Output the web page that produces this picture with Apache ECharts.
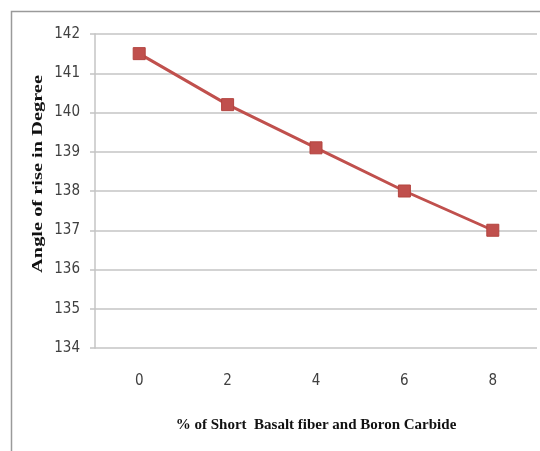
<!DOCTYPE html>
<html><head><meta charset="utf-8">
<script src="https://cdn.jsdelivr.net/npm/echarts@6/dist/echarts.min.js"></script>
<style>html,body{margin:0;padding:0;background:#fff}#c{width:540px;height:451px}</style>
</head><body><div id="c"></div>
<script>
const categories = ['0', '2', '4', '6', '8'];
const angleValues = [141.5, 140.2, 139.1, 138.0, 137.0];
const yMin = 134, yMax = 142, yStep = 1;
const xTitle = '% of Short  Basalt fiber and Boron Carbide';
const yTitle = 'Angle of rise in Degree';

const chart = echarts.init(document.getElementById('c'), null, {renderer: 'canvas'});
const tickFont = {fontFamily: '"Liberation Sans Narrow", "DejaVu Sans Condensed", sans-serif', fontSize: 15, color: '#404040'};
const titleFont = '"Liberation Serif", "Times New Roman", serif';
chart.setOption({
  animation: false,
  backgroundColor: '#fff',
  graphic: [{
    type: 'polyline', silent: true,
    shape: {points: [[11.5, 451], [11.5, 11.5], [540, 11.5]]},
    style: {stroke: '#9a9a9a', lineWidth: 1.5, fill: null}
  }, {
    type: 'text', silent: true,
    x: 38, y: 174, rotation: Math.PI / 2, scaleX: 1.36,
    style: {text: yTitle, font: 'bold 15px ' + titleFont, fill: '#111', align: 'center', verticalAlign: 'middle'}
  }],
  grid: {left: 95, right: 3, top: 34, bottom: 103},
  xAxis: {
    type: 'category', data: categories, boundaryGap: true,
    axisLine: {show: false}, axisTick: {show: false},
    axisLabel: Object.assign({margin: 26}, tickFont),
    name: xTitle,
    nameLocation: 'middle', nameGap: 70,
    nameTextStyle: {fontFamily: titleFont, fontWeight: 'bold', fontSize: 15, color: '#111'}
  },
  yAxis: {
    type: 'value', min: yMin, max: yMax, interval: yStep,
    axisLine: {show: true, lineStyle: {color: '#c4c4c4', width: 1.5}},
    axisTick: {show: true, length: 5, lineStyle: {color: '#c4c4c4', width: 1.5}},
    splitLine: {show: true, lineStyle: {color: '#c4c4c4', width: 1.5}},
    axisLabel: Object.assign({margin: 15}, tickFont)
  },
  series: [{
    type: 'line', data: angleValues,
    symbol: 'rect', symbolSize: 12,
    lineStyle: {color: '#C0504D', width: 3},
    itemStyle: {color: '#C0504D', borderColor: '#B3443F', borderWidth: 1}
  }]
});
</script></body></html>
